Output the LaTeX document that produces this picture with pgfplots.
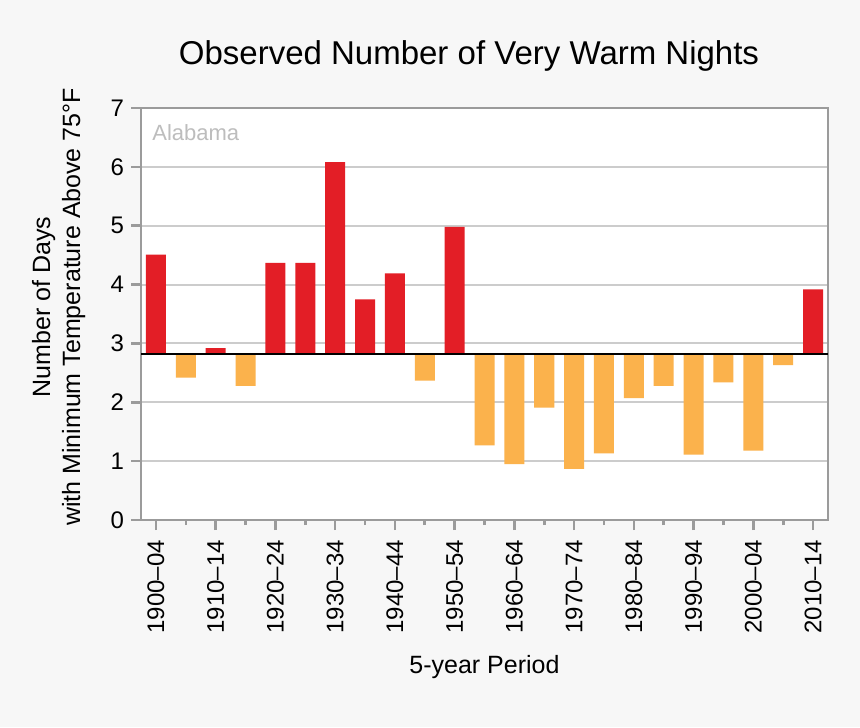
\documentclass[border=0pt]{standalone}
\usepackage{fontspec}
\setmainfont{Liberation Sans}
\usepackage{pgfplots}
\pgfplotsset{compat=1.18}
\definecolor{bg}{HTML}{F7F7F7}
\definecolor{axgray}{HTML}{9B9B9B}
\definecolor{gridgray}{HTML}{CCCCCC}
\definecolor{barred}{HTML}{E31E26}
\definecolor{barorange}{HTML}{FBB24C}
\definecolor{labgray}{HTML}{BDBDBD}
\begin{document}
\begin{tikzpicture}
\fill[bg] (0,0) rectangle (430pt,363.5pt);
\begin{axis}[
  at={(70.5pt,103.5pt)}, anchor=south west,
  scale only axis, width=343.5pt, height=206pt,
  xmin=-0.5, xmax=22.5, ymin=0, ymax=7,
  y coord trafo/.code={\pgfmathparse{#1-2.82}},
  y coord inv trafo/.code={\pgfmathparse{#1+2.82}},
  ytick={0,1,2,3,4,5,6,7},
  yticklabels={0,1,2,3,4,5,6,7},
  xtick={0,2,4,6,8,10,12,14,16,18,20,22},
  xticklabels={1900–04,1910–14,1920–24,1930–34,1940–44,1950–54,1960–64,1970–74,1980–84,1990–94,2000–04,2010–14},
  minor xtick={1,3,5,7,9,11,13,15,17,19,21},
  tick pos=left, tick align=outside,
  major tick length=5pt, minor tick length=2.5pt,
  tick style={draw=axgray, line width=1.3pt},
  axis line style={draw=axgray, line width=1.4pt},
  ymajorgrids, major grid style={draw=gridgray, line width=1pt},
  axis background/.style={fill=white},
  ticklabel style={font=\fontsize{12}{14}\selectfont},
  xticklabel style={rotate=90, anchor=east},
  xticklabel shift=1.5pt,
]
\addplot[ybar, bar width=0.67, bar shift=0, fill=barred, draw=none] coordinates {
  (0,4.51) (2,2.92) (4,4.37) (5,4.37) (6,6.08) (7,3.75) (8,4.19) (10,4.98) (22,3.92)
};
\addplot[ybar, bar width=0.67, bar shift=0, fill=barorange, draw=none] coordinates {
  (1,2.42) (3,2.28) (9,2.37) (11,1.27) (12,0.95) (13,1.91) (14,0.87) (15,1.13)
  (16,2.07) (17,2.28) (18,1.11) (19,2.34) (20,1.18) (21,2.63)
};
\addplot[black, line width=1.4pt, forget plot] coordinates {(-0.5,2.82) (22.5,2.82)};
\end{axis}
\node[anchor=base west, inner sep=0, text=labgray, font=\fontsize{11}{13}\selectfont] at (76pt,293pt) {Alabama};
\node[anchor=base, inner sep=0, font=\fontsize{16.5}{20}\selectfont] at (234.5pt,331pt) {Observed Number of Very Warm Nights};
\node[anchor=base, inner sep=0, font=\fontsize{12.5}{15}\selectfont] at (242.25pt,27pt) {5-year Period};
\node[rotate=90, anchor=base, inner sep=0, font=\fontsize{12.5}{15}\selectfont] at (25pt,210pt) {Number of Days};
\node[rotate=90, anchor=base, inner sep=0, font=\fontsize{12.5}{15}\selectfont] at (40pt,210pt) {with Minimum Temperature Above 75°F};
\pgfresetboundingbox
\useasboundingbox (0,0) rectangle (430pt,363.5pt);
\end{tikzpicture}
\end{document}
